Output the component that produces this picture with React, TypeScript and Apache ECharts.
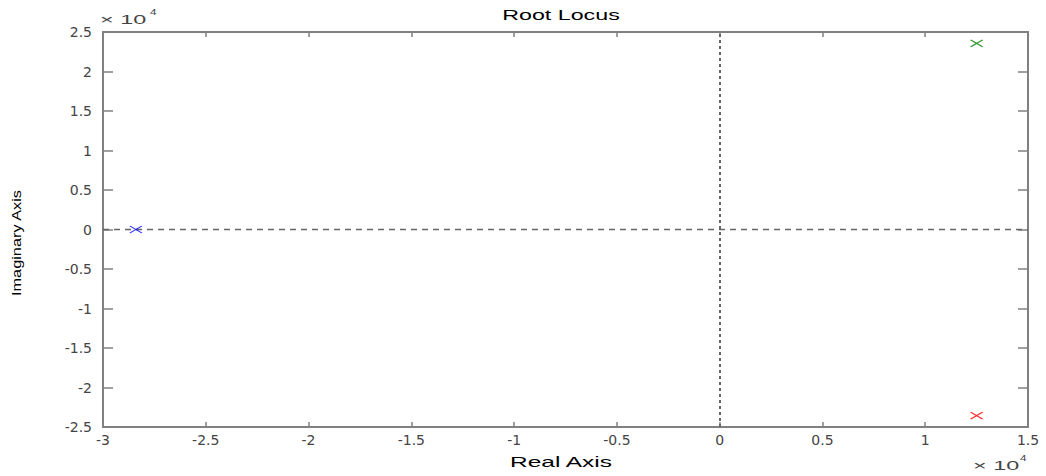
import React, { useEffect, useRef } from "react";
import * as echarts from "echarts";

const SCALE = 1e4;
const xTicks = [-3, -2.5, -2, -1.5, -1, -0.5, 0, 0.5, 1, 1.5];
const yTicks = [-2.5, -2, -1.5, -1, -0.5, 0, 0.5, 1, 1.5, 2, 2.5];
const poleReal = [-28400, 12500, 12500];
const poleImag = [0, 23550, -23550];
const poleColors = ["#0000ff", "#008000", "#ff0000"];
const poleNames = ["pole 1", "pole 2", "pole 3"];

const FONT = "Liberation Sans, Arial, sans-serif";
const LABEL_FONT = "DejaVu Sans, sans-serif";
const AXIS_GRAY = "#808080";
const TEXT = "#444444";

const fmt = (v: number) => {
  const n = Math.round((v / SCALE) * 100) / 100;
  return String(n);
};

const crossPath = "path://M0,0L10,10M10,0L0,10";

export default function App() {
  const ref = useRef<HTMLDivElement>(null);
  useEffect(() => {
    if (!ref.current) return;
    const chart = echarts.init(ref.current, undefined, { renderer: "svg" });
    const xMin = xTicks[0] * SCALE;
    const xMax = xTicks[xTicks.length - 1] * SCALE;
    const yMin = yTicks[0] * SCALE;
    const yMax = yTicks[yTicks.length - 1] * SCALE;
    const axisCommon = (tickLen: number) => ({
      type: "value" as const,
      interval: 0.5 * SCALE,
      splitLine: { show: false },
      axisLine: { show: true, onZero: false, lineStyle: { color: AXIS_GRAY, width: 2 } },
      axisTick: { show: true, inside: true, length: tickLen, lineStyle: { color: AXIS_GRAY, width: 1.5 } },
    });
    const series: any[] = poleNames.map((name, i) => ({
      name,
      type: "scatter",
      data: [[poleReal[i], poleImag[i]]],
      symbol: crossPath,
      symbolSize: [12, 7],
      itemStyle: { color: "none", borderColor: poleColors[i], borderWidth: 1.3 },
      z: 5,
    }));
    series.push({
      type: "line",
      data: [],
      silent: true,
      markLine: {
        silent: true,
        symbol: "none",
        label: { show: false },
        data: [
          { yAxis: 0, lineStyle: { type: [6, 5], color: "#666666", width: 1.3 } },
          { xAxis: 0, lineStyle: { type: [3, 3], color: "#666666", width: 2 } },
        ],
      },
    });
    chart.setOption({
      animation: false,
      backgroundColor: "#ffffff",
      grid: { left: 103, right: 18, top: 32, bottom: 49, containLabel: false },
      xAxis: [
        {
          ...axisCommon(5),
          min: xMin,
          max: xMax,
          position: "bottom",
          axisLabel: { formatter: fmt, fontFamily: LABEL_FONT, fontSize: 14, color: TEXT, margin: 6 },
        },
        {
          ...axisCommon(5),
          min: xMin,
          max: xMax,
          position: "top",
          axisLabel: { show: false },
        },
      ],
      yAxis: [
        {
          ...axisCommon(10),
          min: yMin,
          max: yMax,
          position: "left",
          axisLabel: { formatter: fmt, fontFamily: LABEL_FONT, fontSize: 14, color: TEXT, margin: 11 },
        },
        {
          ...axisCommon(10),
          min: yMin,
          max: yMax,
          position: "right",
          axisLabel: { show: false },
        },
      ],
      graphic: [
        {
          type: "text",
          x: 561,
          y: 15,
          scaleX: 1.55,
          style: { text: "Root Locus", font: `15px ${FONT}`, fill: "#000", align: "center", verticalAlign: "middle" },
        },
        {
          type: "text",
          x: 561,
          y: 462,
          scaleX: 1.75,
          style: { text: "Real Axis", font: `14px ${FONT}`, fill: "#000", align: "center", verticalAlign: "middle" },
        },
        {
          type: "text",
          x: 17,
          y: 243,
          rotation: Math.PI / 2,
          scaleX: 1.36,
          style: { text: "Imaginary Axis", font: `12px ${FONT}`, fill: "#000", align: "center", verticalAlign: "middle" },
        },
        {
          type: "text",
          x: 100,
          y: 20,
          scaleX: 1.8,
          style: { text: "× 10", font: `13px ${FONT}`, fill: TEXT, align: "left", verticalAlign: "middle" },
        },
        {
          type: "text",
          x: 150,
          y: 12,
          scaleX: 1.3,
          style: { text: "4", font: `9px ${FONT}`, fill: TEXT, align: "left", verticalAlign: "middle" },
        },
        {
          type: "text",
          x: 973,
          y: 466,
          scaleX: 1.8,
          style: { text: "× 10", font: `13px ${FONT}`, fill: TEXT, align: "left", verticalAlign: "middle" },
        },
        {
          type: "text",
          x: 1020,
          y: 458,
          scaleX: 1.3,
          style: { text: "4", font: `9px ${FONT}`, fill: TEXT, align: "left", verticalAlign: "middle" },
        },
      ],
      series,
    });
    return () => chart.dispose();
  }, []);
  return (
    <div
      ref={ref}
      style={{ position: "absolute", left: 0, top: 0, width: 1046, height: 476 }}
    />
  );
}
